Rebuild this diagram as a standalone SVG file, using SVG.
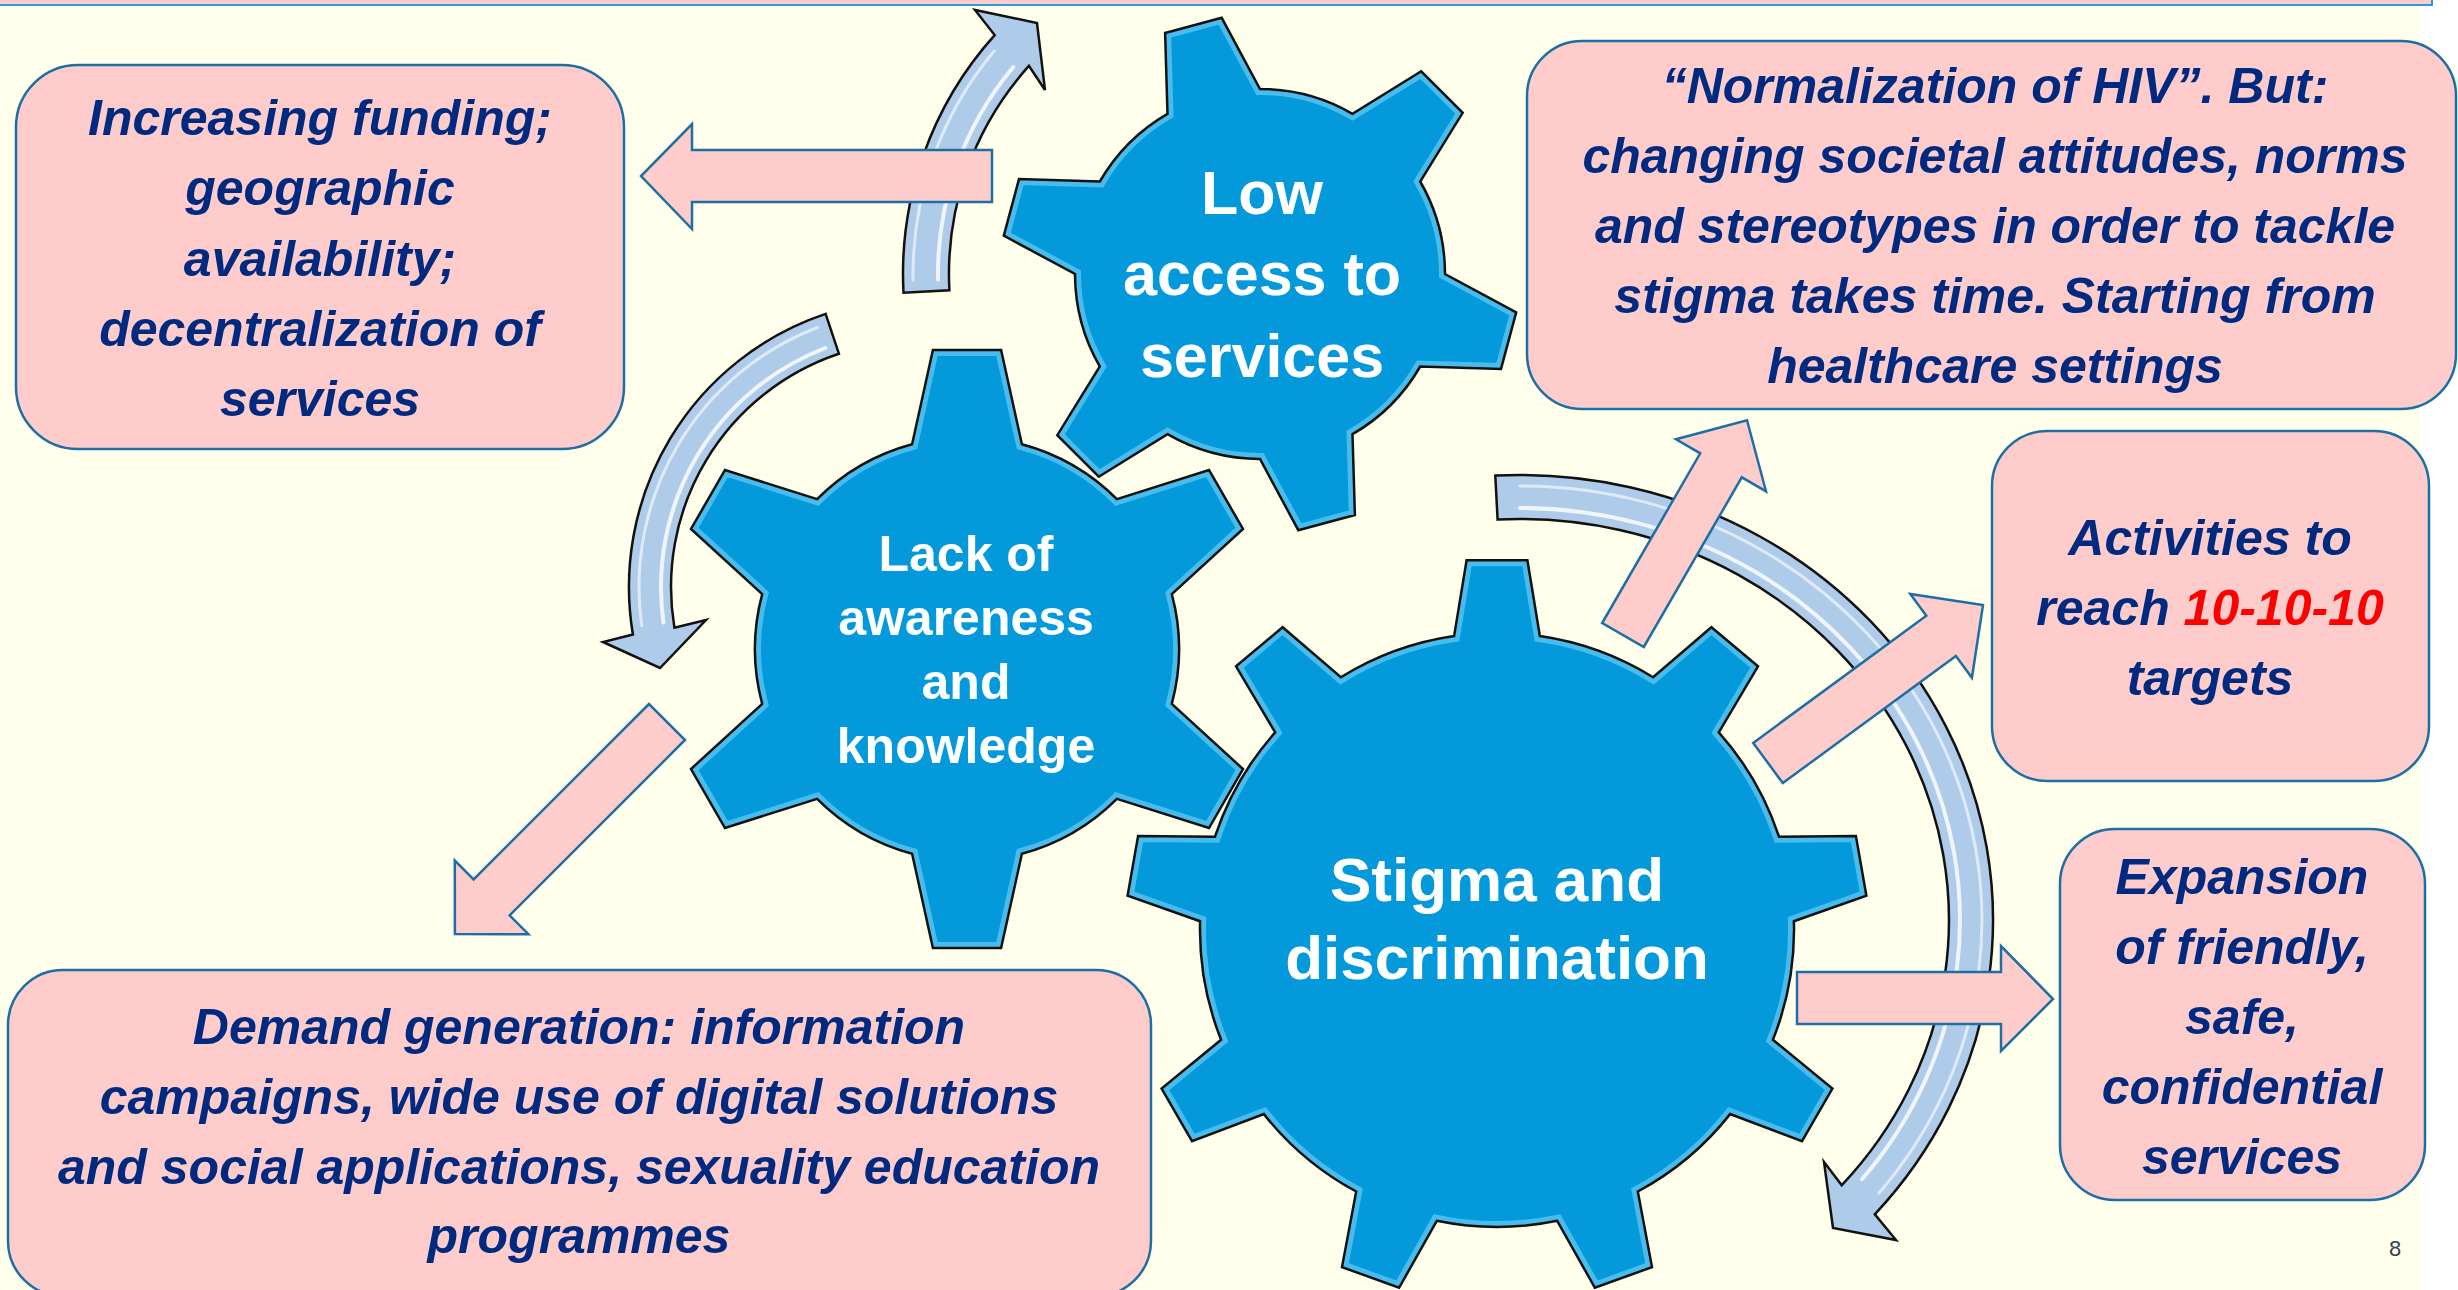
<svg xmlns="http://www.w3.org/2000/svg" xmlns:xlink="http://www.w3.org/1999/xlink" width="2458" height="1290" viewBox="0 0 2458 1290">
<style>
.box{fill:#FFCCCC;stroke:#1D6FA3;stroke-width:2.5}
.bt{font-family:"Liberation Sans",Arial,sans-serif;font-weight:bold;font-style:italic;font-size:50px;fill:#002A80;text-anchor:middle}
.gt{font-family:"Liberation Sans",Arial,sans-serif;font-weight:bold;fill:#FFFFFF;text-anchor:middle}
.pa{fill:#FFCCCC;stroke:#1D6FA3;stroke-width:2.5;stroke-linejoin:miter}
.ca{fill:#AFCBEA;stroke:#111111;stroke-width:2.5;stroke-linejoin:miter}
.hl{fill:none;stroke:#FFFFFF;stroke-width:4;opacity:.8;stroke-linecap:round}
.gf{fill:#0399DA}
.gb{fill:none;stroke:#8EE0FF;stroke-width:12;opacity:.5}
.go{fill:none;stroke:#111111;stroke-width:2.5;stroke-linejoin:miter}
</style>
<defs>
<path id="g1p" d="M1167.5,113.8 L1165.1,33.0 L1221.7,17.8 L1260,89 A185,185 0 0 1 1352.5,113.8 L1421.2,71.3 L1462.7,112.8 L1420.2,181.5 A185,185 0 0 1 1445,274 L1516.2,312.3 L1501.0,368.9 L1420.2,366.5 A185,185 0 0 1 1352.5,434.2 L1354.9,515.0 L1298.3,530.2 L1260,459 A185,185 0 0 1 1167.5,434.2 L1098.8,476.7 L1057.3,435.2 L1099.8,366.5 A185,185 0 0 1 1075,274 L1003.8,235.7 L1019.0,179.1 L1099.8,181.5 A185,185 0 0 1 1167.5,113.8 Z"/>
<path id="g2p" d="M912.1,444.2 L932.9,349.9 L1001.1,349.9 L1021.9,444.2 A212,212 0 0 1 1116.9,499.1 L1209.0,470.0 L1243.0,529.0 L1171.8,594.1 A212,212 0 0 1 1171.8,703.9 L1243.0,769.0 L1209.0,828.0 L1116.9,798.9 A212,212 0 0 1 1021.9,853.8 L1001.1,948.1 L932.9,948.1 L912.1,853.8 A212,212 0 0 1 817.1,798.9 L725.0,828.0 L691.0,769.0 L762.2,703.9 A212,212 0 0 1 762.2,594.1 L691.0,529.0 L725.0,470.0 L817.1,499.1 A212,212 0 0 1 912.1,444.2 Z"/>
<path id="g3p" d="M1454.1,636.1 L1466.6,560.2 L1527.4,560.2 L1539.9,636.1 A297,297 0 0 1 1653.1,677.3 L1711.4,627.2 L1758.0,666.3 L1718.8,732.4 A297,297 0 0 1 1779.0,836.7 L1855.9,835.9 L1866.4,895.7 L1793.9,921.2 A297,297 0 0 1 1772.9,1039.8 L1832.4,1088.6 L1802.0,1141.2 L1730.1,1114.1 A297,297 0 0 1 1637.8,1191.5 L1652.0,1267.1 L1594.9,1287.8 L1557.2,1220.8 A297,297 0 0 1 1436.8,1220.8 L1399.1,1287.8 L1342.0,1267.1 L1356.2,1191.5 A297,297 0 0 1 1263.9,1114.1 L1192.0,1141.2 L1161.6,1088.6 L1221.1,1039.8 A297,297 0 0 1 1200.1,921.2 L1127.6,895.7 L1138.1,835.9 L1215.0,836.7 A297,297 0 0 1 1275.2,732.4 L1236.0,666.3 L1282.6,627.2 L1340.9,677.3 A297,297 0 0 1 1454.1,636.1 Z"/>
<clipPath id="c1"><use xlink:href="#g1p"/></clipPath>
<clipPath id="c2"><use xlink:href="#g2p"/></clipPath>
<clipPath id="c3"><use xlink:href="#g3p"/></clipPath>
</defs>

<rect x="0" y="0" width="2458" height="1290" fill="#FFFFFF"/>
<rect x="0" y="0" width="2420" height="1290" fill="#FFFFEC"/>
<rect x="0" y="0" width="2432" height="5" fill="#FFCCCC"/>
<path d="M0,5 H2432 V0" fill="none" stroke="#2A9BD6" stroke-width="2"/>

<g id="connectors-curved">
<path class="ca" d="M903.5,292.7 A357,357 0 0 1 994.7,35.1 L975,10 L1037,23 L1045,90 L1028.9,65.9 A311,311 0 0 0 949.4,290.3 Z"/>
<path class="hl" d="M938.0,279.6 A322,322 0 0 1 1013.3,67.0"/>
<path class="hl" style="stroke-width:3;opacity:.6" d="M913.1,280.1 A347,347 0 0 1 994.2,51.0"/>
<path class="ca" d="M825.6,313.9 A288,288 0 0 0 632.9,634.5 L603,642 L660,668 L706,620 L674.4,627.6 A246,246 0 0 1 838.9,353.7 Z"/>
<path class="hl" d="M825.3,348.0 A256,256 0 0 0 663.5,622.6"/>
<path class="hl" style="stroke-width:3;opacity:.6" d="M817.4,327.5 A278,278 0 0 0 641.7,625.7"/>
<path class="ca" d="M1495.3,475.6 A473,445 0 0 1 1874.8,1214.3 L1896,1240 L1833,1228 L1824,1162 L1841.8,1185.2 A429,401 0 0 0 1497.6,519.6 Z"/>
<path class="hl" d="M1520,508 A440,412 0 0 1 1861.9,1179.3"/>
<path class="hl" style="stroke-width:3;opacity:.6" d="M1520,486 A462,434 0 0 1 1879.0,1193.1"/>
</g>

<g id="gear-low-access">
<use xlink:href="#g1p" class="gf"/>
<use xlink:href="#g1p" class="gb" clip-path="url(#c1)"/>
<use xlink:href="#g1p" class="go"/>
<text class="gt" font-size="61" x="1262" y="214">Low</text>
<text class="gt" font-size="61" x="1262" y="295">access to</text>
<text class="gt" font-size="61" x="1262" y="377">services</text>
</g>

<g id="gear-lack-awareness">
<use xlink:href="#g2p" class="gf"/>
<use xlink:href="#g2p" class="gb" clip-path="url(#c2)"/>
<use xlink:href="#g2p" class="go"/>
<text class="gt" font-size="50" x="966" y="571">Lack of</text>
<text class="gt" font-size="50" x="966" y="635">awareness</text>
<text class="gt" font-size="50" x="966" y="699">and</text>
<text class="gt" font-size="50" x="966" y="763">knowledge</text>
</g>

<g id="gear-stigma">
<use xlink:href="#g3p" class="gf"/>
<use xlink:href="#g3p" class="gb" clip-path="url(#c3)"/>
<use xlink:href="#g3p" class="go"/>
<text class="gt" font-size="62" x="1497" y="901">Stigma and</text>
<text class="gt" font-size="62" x="1497" y="979">discrimination</text>
</g>

<g id="connectors-block">
<polygon class="pa" points="992,150 692,150 692,124 641,176 692,229 692,202 992,202"/>
<polygon class="pa" points="649,704 473.6,879.4 454.8,860.6 454.9,934.1 528.4,934.2 509.6,915.4 685,740"/>
<polygon class="pa" points="1602.2,623 1700.2,453.3 1676,439.3 1747,420.2 1766,491.3 1741.8,477.3 1643.8,647"/>
<polygon class="pa" points="1753.2,742.9 1926.3,615.7 1910.3,593.9 1983,605 1971.9,677.7 1955.9,655.9 1782.8,783.1"/>
<polygon class="pa" points="1797,972 2001,972 2001,946 2053,999 2001,1051 2001,1024 1797,1024"/>
</g>

<g id="box-funding">
<rect class="box" x="16" y="65" width="608" height="384" rx="62" ry="62"/>
<text class="bt" x="320" y="135">Increasing funding;</text>
<text class="bt" x="320" y="205">geographic</text>
<text class="bt" x="320" y="276">availability;</text>
<text class="bt" x="320" y="346">decentralization of</text>
<text class="bt" x="320" y="416">services</text>
</g>

<g id="box-normalization">
<rect class="box" x="1527" y="41" width="929" height="368" rx="55" ry="55"/>
<text class="bt" x="1995" y="103">“Normalization of HIV”. But:</text>
<text class="bt" x="1995" y="173">changing societal attitudes, norms</text>
<text class="bt" x="1995" y="243">and stereotypes in order to tackle</text>
<text class="bt" x="1995" y="313">stigma takes time. Starting from</text>
<text class="bt" x="1995" y="383">healthcare settings</text>
</g>

<g id="box-activities">
<rect class="box" x="1992" y="431" width="437" height="350" rx="55" ry="55"/>
<text class="bt" x="2210" y="555">Activities to</text>
<text class="bt" x="2210" y="625">reach <tspan fill="#FF0000">10-10-10</tspan></text>
<text class="bt" x="2210" y="695">targets</text>
</g>

<g id="box-expansion">
<rect class="box" x="2060" y="829" width="365" height="371" rx="55" ry="55"/>
<text class="bt" x="2242" y="894">Expansion</text>
<text class="bt" x="2242" y="964">of friendly,</text>
<text class="bt" x="2242" y="1034">safe,</text>
<text class="bt" x="2242" y="1104">confidential</text>
<text class="bt" x="2242" y="1174">services</text>
</g>

<g id="box-demand">
<rect class="box" x="8" y="970" width="1143" height="326" rx="55" ry="55"/>
<text class="bt" x="579" y="1044">Demand generation: information</text>
<text class="bt" x="579" y="1114">campaigns, wide use of digital solutions</text>
<text class="bt" x="579" y="1184">and social applications, sexuality education</text>
<text class="bt" x="579" y="1253">programmes</text>
</g>

<text x="2395" y="1256" font-family="Liberation Sans, Arial, sans-serif" font-size="22" fill="#333F50" text-anchor="middle">8</text>
</svg>
